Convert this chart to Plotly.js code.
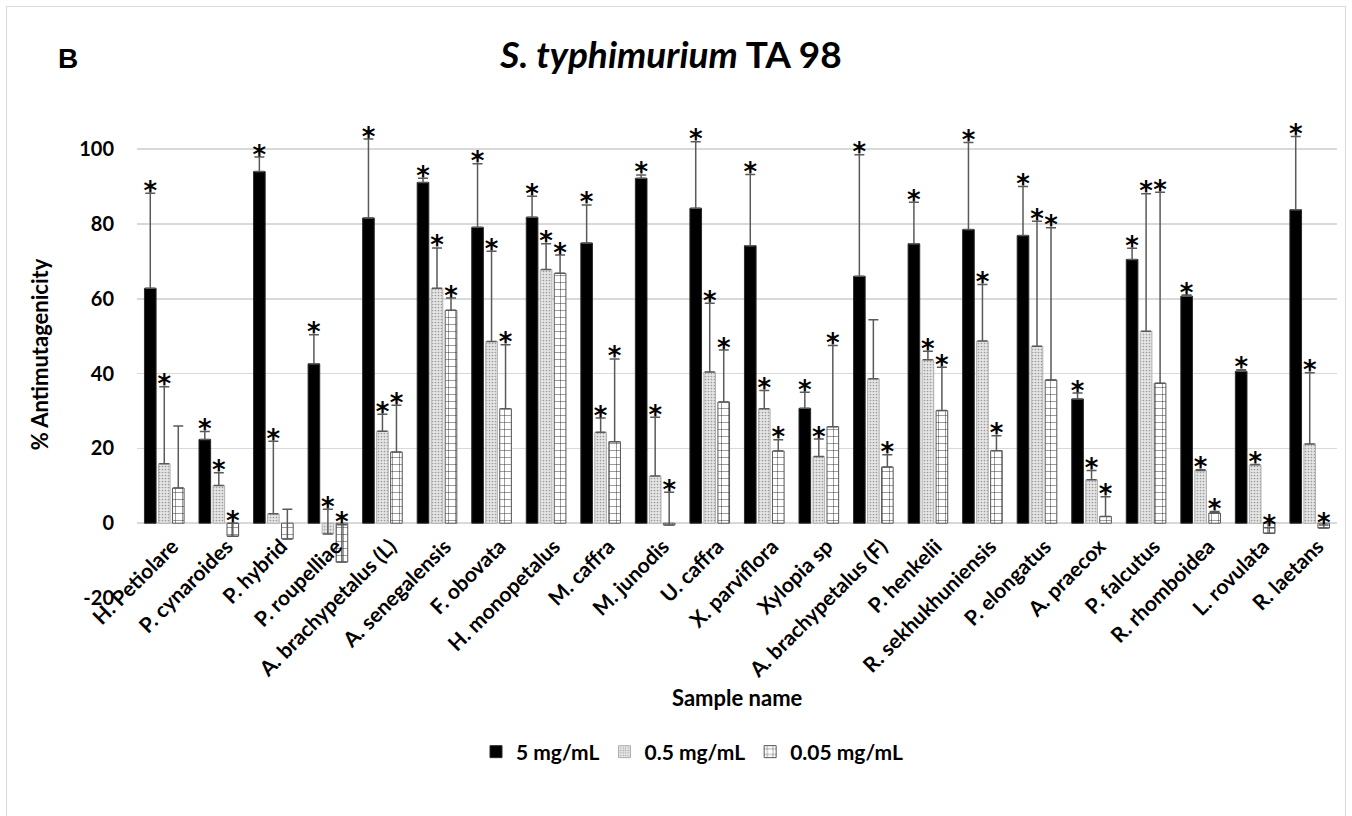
<!DOCTYPE html>
<html>
<head>
<meta charset="utf-8">
<script src="https://cdn.plot.ly/plotly-3.0.1.min.js"></script>
<style>
  html, body { margin: 0; padding: 0; background: #fff; }
  #wrap { position: relative; width: 1352px; height: 816px; overflow: hidden; }
  #chart { width: 1352px; height: 816px; }
  #frame { position: absolute; left: 6px; top: 6px; width: 1338px; height: 830px;
           border: 1.5px solid #d9d9d9; pointer-events: none; }
</style>
</head>
<body>
<div id="wrap"><div id="chart"></div><div id="frame"></div></div>
<script>
// ---- data ----
const samples = ["H. Petiolare", "P. cynaroides", "P. hybrid", "P. roupelliae", "A. brachypetalus (L)",
  "A. senegalensis", "F. obovata", "H. monopetalus", "M. caffra", "M. junodis", "U. caffra",
  "X. parviflora", "Xylopia sp", "A. brachypetalus (F)", "P. henkelii", "R. sekhukhuniensis",
  "P. elongatus", "A. praecox", "P. falcutus", "R. rhomboidea", "L. rovulata", "R. laetans"];

const seriesNames = ["5 mg/mL", "0.5 mg/mL", "0.05 mg/mL"];

const val5 = [62.8, 22.4, 94.0, 42.6, 81.6, 91.1, 79.1, 81.8, 74.9, 92.2, 84.2,
  74.2, 30.7, 66.0, 74.7, 78.5, 76.9, 33.2, 70.5, 60.7, 40.6, 83.8];
const err5 = [25.4, 2.1, 3.9, 7.8, 21.1, 1.1, 17.0, 5.6, 10.2, 0.9, 17.8,
  19.0, 4.3, 32.5, 11.1, 23.3, 13.1, 1.6, 3.0, 0.3, 0.4, 19.6];
const sig5 = [1, 1, 1, 1, 1, 1, 1, 1, 1, 1, 1, 1, 1, 1, 1, 1, 1, 1, 1, 1, 1, 1];

const val05 = [15.9, 10.1, 2.5, -2.9, 24.6, 62.8, 48.6, 67.8, 24.3, 12.6, 40.4,
  30.6, 17.8, 38.6, 43.7, 48.7, 47.3, 11.6, 51.3, 14.1, 15.6, 21.2];
const err05 = [20.6, 3.4, 19.4, 6.6, 4.5, 10.8, 24.1, 6.9, 3.8, 15.7, 18.4,
  4.9, 4.7, 15.8, 2.3, 15.1, 33.4, 2.5, 36.8, 0.2, 0.1, 19.0];
const sig05 = [1, 1, 1, 1, 1, 1, 1, 1, 1, 1, 1, 1, 1, 0, 1, 1, 1, 1, 1, 1, 1, 1];

const val005 = [9.4, -3.5, -4.2, -10.4, 19.0, 56.9, 30.6, 66.8, 21.8, -0.5, 32.4,
  19.3, 25.8, 15.0, 30.1, 19.4, 38.3, 1.8, 37.4, 2.7, -2.7, -1.3];
const err005 = [16.6, 3.5, 7.9, 10.0, 12.5, 3.3, 17.1, 4.9, 22.1, 8.8, 13.9,
  3.0, 21.7, 3.3, 11.6, 4.0, 40.7, 5.3, 51.1, 0.4, 1.5, 0.8];
const sig005 = [0, 1, 0, 1, 1, 1, 1, 1, 1, 1, 1, 1, 1, 1, 1, 1, 1, 1, 1, 1, 1, 1];

const yTicks = [-20, 0, 20, 40, 60, 80, 100];
const yRange = [-20, 110.2];

// ---- styles ----
const FONT = "Lato, 'Open Sans', sans-serif";
const errStyle = { color: "#5a5a5a", thickness: 1.5, width: 5 };
const markers = [
  { color: "#000000", line: { color: "#2a2a2a", width: 1 } },
  { color: "#e2e2e2", pattern: { shape: ".", fgcolor: "#9a9a9a", bgcolor: "#e6e6e6", size: 3, solidity: 0.25 },
    line: { color: "#b0b0b0", width: 1 } },
  { color: "#ffffff", pattern: { shape: "+", fgcolor: "#1a1a1a", bgcolor: "#ffffff", size: 7, solidity: 0.12 },
    line: { color: "#555555", width: 1 } }
];

const vals = [val5, val05, val005];
const errs = [err5, err05, err005];
const sigs = [sig5, sig05, sig005];

const traces = [];
for (let s = 0; s < 3; s++) {
  traces.push({
    type: "bar", name: seriesNames[s], x: samples, y: vals[s],
    offsetgroup: "g" + s, alignmentgroup: "a",
    marker: markers[s],
    error_y: Object.assign({ type: "data", symmetric: false, array: errs[s],
      arrayminus: vals[s].map(() => 0), visible: true }, errStyle),
    hoverinfo: "skip"
  });
}
for (let s = 0; s < 3; s++) {
  traces.push({
    type: "scatter", mode: "text", x: samples,
    y: vals[s].map((v, i) => v + errs[s][i]),
    text: sigs[s].map(f => f ? "*" : ""),
    textposition: "middle center",
    textfont: { family: "'DejaVu Sans', sans-serif", size: 26, weight: "bold", color: "#000" },
    offsetgroup: "g" + s, alignmentgroup: "a",
    cliponaxis: false, showlegend: false, hoverinfo: "skip"
  });
}

const layout = {
  width: 1352, height: 816,
  margin: { l: 137, r: 15, t: 111, b: 218, pad: 0 },
  paper_bgcolor: "#ffffff", plot_bgcolor: "#ffffff",
  barmode: "group", bargap: 0.23, bargroupgap: 0.17,
  scattermode: "group", scattergap: 0.23,
  font: { family: FONT, color: "#000" },
  title: {
    text: "<i>S. typhimurium</i> TA 98",
    font: { family: FONT, size: 37, weight: "bold", color: "#000" },
    x: 671 / 1352, xanchor: "center", xref: "container",
    y: 1 - 55 / 816, yanchor: "middle", yref: "container"
  },
  xaxis: {
    type: "category",
    anchor: "free",
    position: (0 - yRange[0]) / (yRange[1] - yRange[0]),
    showline: false, showgrid: false, zeroline: false, ticks: "",
    tickangle: -45,
    ticklabelstandoff: 6,
    ticklabelshift: 8,
    tickfont: { family: FONT, size: 21, weight: "bold", color: "#000" },
    automargin: false
  },
  yaxis: {
    range: yRange, tickvals: yTicks, ticktext: yTicks.map(String),
    showline: false, zeroline: false, ticks: "",
    showgrid: true, gridcolor: "#d9d9d9", gridwidth: 1.5,
    tickfont: { family: FONT, size: 20, weight: "bold", color: "#000" },
    ticklabelstandoff: 22,
    title: { text: "% Antimutagenicity", standoff: 24,
      font: { family: FONT, size: 22, weight: "bold", color: "#000" } },
    automargin: false
  },
  legend: {
    orientation: "h", x: (692 - 137) / 1200, xanchor: "center",
    y: (598 - 752) / 487, yanchor: "middle",
    font: { family: FONT, size: 21, weight: "bold", color: "#000" },
    itemwidth: 30, traceorder: "normal"
  },
  annotations: [
    { text: "Sample name", xref: "paper", yref: "paper", x: (737 - 137) / 1200, y: (598 - 697) / 487,
      xanchor: "center", yanchor: "middle", showarrow: false,
      font: { family: FONT, size: 22, weight: "bold", color: "#000" } },
    { text: "B", xref: "paper", yref: "paper", x: (68 - 137) / 1200, y: (598 - 58) / 487,
      xanchor: "center", yanchor: "middle", showarrow: false,
      font: { family: "'Liberation Sans', Arial, sans-serif", size: 28, weight: "bold", color: "#000" } }
  ],
  showlegend: true
};

Plotly.newPlot("chart", traces, layout, { displayModeBar: false, staticPlot: true });
</script>
</body>
</html>
